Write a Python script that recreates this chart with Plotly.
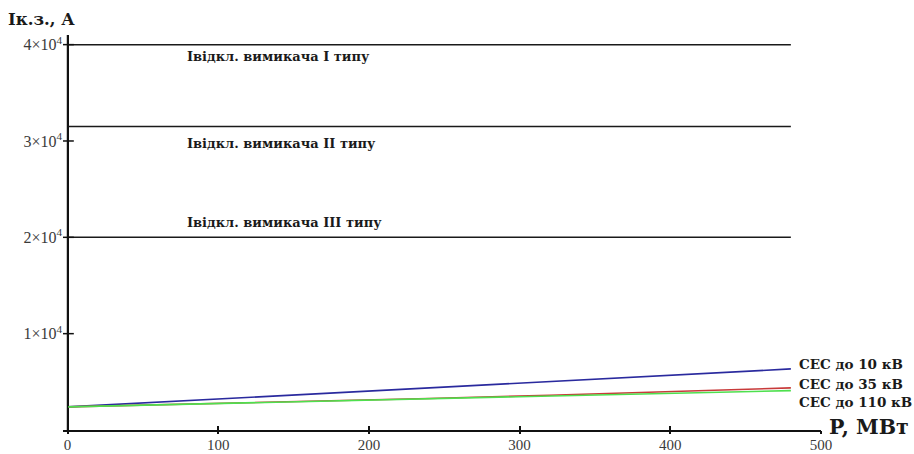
import plotly.graph_objects as go

# Power of the solar plant, MW
power_mw = [0, 80, 160, 240, 320, 400, 480]

# Short-circuit current for connection voltage levels, A
isc_10kv = [2400, 3050, 3710, 4370, 5030, 5690, 6340]
isc_35kv = [2400, 2680, 2970, 3270, 3610, 3980, 4370]
isc_110kv = [2400, 2680, 2960, 3250, 3530, 3810, 4090]

series_names = ["СЕС до 10 кВ", "СЕС до 35 кВ", "СЕС до 110 кВ"]
series_colors = ["#2a2a9e", "#c83a3a", "#4ee04e"]

# Breaking capacity of circuit breakers, A
breaker_currents = [40000, 31500, 20000]
breaker_labels = ["Iвідкл. вимикача I типу", "Iвідкл. вимикача II типу", "Iвідкл. вимикача III типу"]
breaker_label_shift = [-12, -17, 15]
breaker_x_span = [0, 480]

x_ticks = [0, 100, 200, 300, 400, 500]
y_ticks = [10000, 20000, 30000, 40000]
y_tick_text = ["1×10<sup>4</sup>", "2×10<sup>4</sup>", "3×10<sup>4</sup>", "4×10<sup>4</sup>"]

SERIF = "Liberation Serif"
BOLD_SERIF = "DejaVu Serif"
X_RANGE = [-3, 500]
Y_RANGE = [0, 41000]

fig = go.Figure()

for cur in breaker_currents:
    fig.add_trace(go.Scatter(x=breaker_x_span, y=[cur, cur], mode="lines",
                             line=dict(color="#1a1a1a", width=1.5),
                             showlegend=False, hoverinfo="skip"))

for name, ys, col in zip(series_names, [isc_10kv, isc_35kv, isc_110kv], series_colors):
    fig.add_trace(go.Scatter(x=power_mw, y=ys, mode="lines", name=name,
                             line=dict(color=col, width=1.6), showlegend=False))

for lbl, cur, sh in zip(breaker_labels, breaker_currents, breaker_label_shift):
    fig.add_annotation(x=78, y=cur, text=f"<b>{lbl}</b>", showarrow=False,
                       xanchor="left", yanchor="middle", yshift=sh,
                       font=dict(family=BOLD_SERIF, size=13, color="#1a1a1a"))

# End-of-line series labels
end_y = [isc_10kv[-1], isc_35kv[-1], isc_110kv[-1]]
end_shift = [5, 4, -11]
for name, yv, sh in zip(series_names, end_y, end_shift):
    fig.add_annotation(x=484, y=yv, text=f"<b>{name}</b>", showarrow=False,
                       xanchor="left", yanchor="middle", yshift=sh,
                       font=dict(family=BOLD_SERIF, size=13.5, color="#1a1a1a"))

# Axis titles
fig.add_annotation(xref="paper", yref="paper", x=-0.075, y=1.0, yshift=16,
                   text="<b>Iк.з., А</b>", showarrow=False, xanchor="left",
                   yanchor="middle", font=dict(family=BOLD_SERIF, size=16.5, color="#1a1a1a"))
fig.add_annotation(xref="paper", yref="paper", x=1.0, y=0, xshift=6, yshift=3,
                   text="<b>P, МВт</b>", showarrow=False, xanchor="left",
                   yanchor="middle", font=dict(family=BOLD_SERIF, size=20.5, color="#1a1a1a"))

tick_font = dict(family=SERIF, size=15, color="#3a3a3a")

fig.update_layout(
    width=914, height=454,
    margin=dict(l=63, r=93, t=35, b=24, autoexpand=False),
    paper_bgcolor="white", plot_bgcolor="white",
    xaxis=dict(range=X_RANGE, tickvals=x_ticks, showgrid=False, automargin=False,
               zeroline=True, zerolinecolor="#111", zerolinewidth=1.5,
               showline=True, linecolor="#111", linewidth=1.5,
               ticks="inside", ticklen=4, tickcolor="#111", tickwidth=1.5,
               tickfont=tick_font, ticklabelstandoff=0),
    yaxis=dict(range=Y_RANGE, tickvals=y_ticks, ticktext=y_tick_text, automargin=False,
               showgrid=False, zeroline=False, showline=False,
               ticks="", tickfont=dict(family=SERIF, size=16, color="#3a3a3a")),
    xaxis2=dict(range=X_RANGE, overlaying="x", tickvals=x_ticks, showticklabels=False,
                showgrid=False, zeroline=False, ticks="outside", ticklen=3, automargin=False,
                tickcolor="#111", tickwidth=1.5, anchor="y"),
    yaxis2=dict(range=Y_RANGE, overlaying="y", anchor="free", position=0, automargin=False,
                tickvals=y_ticks, showticklabels=False, showgrid=False,
                zeroline=False, ticks="", showline=False),
    showlegend=False,
)

# Tick marks crossing the vertical axis at x = 0
fig.add_trace(go.Scatter(x=[0] * len(y_ticks), y=y_ticks, mode="markers",
                         marker=dict(symbol="line-ew", size=9,
                                     line=dict(color="#111", width=1.5)),
                         showlegend=False, hoverinfo="skip"))
fig.add_trace(go.Scatter(x=[0, 0], y=[Y_RANGE[0], Y_RANGE[1]], mode="lines",
                         line=dict(color="#111", width=1.5), xaxis="x2",
                         showlegend=False, hoverinfo="skip"))

fig.write_html("out.html")
